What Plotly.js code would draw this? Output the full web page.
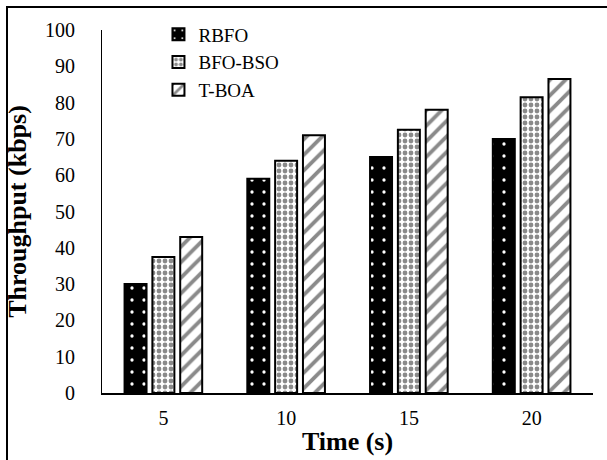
<!DOCTYPE html>
<html>
<head>
<meta charset="utf-8">
<script src="https://cdn.plot.ly/plotly-3.0.1.min.js"></script>
<style>
html,body{margin:0;padding:0;background:#fff;}
#wrap{position:relative;width:607px;height:460px;overflow:hidden;}
#frame{position:absolute;left:6px;top:6px;width:640px;height:500px;border-left:2px solid #000;border-top:2px solid #000;pointer-events:none;}
#chart{position:absolute;left:0;top:0;width:607px;height:460px;}
</style>
</head>
<body>
<div id="wrap">
<div id="chart"></div>
<div id="frame"></div>
</div>
<script>
var categories = ['5', '10', '15', '20'];
var seriesNames = ['RBFO', 'BFO-BSO', 'T-BOA'];
var rbfo = [30, 59, 65, 70];
var bfoBso = [37.5, 64, 72.5, 81.5];
var tBoa = [43, 71, 78, 86.5];
var yTicks = [0, 10, 20, 30, 40, 50, 60, 70, 80, 90, 100];

var font = '"Liberation Serif", "Times New Roman", serif';

var patterns = [
  {shape: '.', bgcolor: '#000000', fgcolor: '#ffffff', size: 12, solidity: 0.06},
  {shape: '.', bgcolor: '#ffffff', fgcolor: '#8a8a8a', size: 6, solidity: 0.5},
  {shape: '/', bgcolor: '#ffffff', fgcolor: '#8a8a8a', size: 11, solidity: 0.35}
];
var values = [rbfo, bfoBso, tBoa];

var data = seriesNames.map(function(name, i) {
  return {
    type: 'bar',
    name: name,
    x: categories,
    y: values[i],
    marker: {
      color: patterns[i].bgcolor,
      pattern: patterns[i],
      line: {color: '#000000', width: 2}
    }
  };
});

var layout = {
  width: 607,
  height: 460,
  margin: {l: 102, r: 14, t: 30, b: 67},
  paper_bgcolor: '#ffffff',
  plot_bgcolor: '#ffffff',
  font: {family: font, size: 20, color: '#000'},
  barmode: 'group',
  bargap: 0.32,
  bargroupgap: 0.21,
  showlegend: true,
  legend: {
    x: 0.115, y: 1.04, xanchor: 'left', yanchor: 'top',
    font: {family: font, size: 19, color: '#000'},
    bgcolor: 'rgba(0,0,0,0)',
    tracegroupgap: 0,
    itemwidth: 30
  },
  xaxis: {
    type: 'category',
    showline: true, linecolor: '#000', linewidth: 1.5,
    showgrid: false, zeroline: false,
    ticks: '', ticklabelstandoff: 6,
    tickfont: {family: font, size: 20, color: '#000'},
    title: {text: '<b>Time (s)</b>', font: {family: font, size: 26, color: '#000'}, standoff: 4}
  },
  yaxis: {
    range: [0, 100],
    tickvals: yTicks,
    showline: true, linecolor: '#000', linewidth: 1,
    showgrid: false, zeroline: false,
    ticks: '', ticklabelstandoff: 22,
    tickfont: {family: font, size: 20, color: '#000'},
    title: {text: '<b>Throughput (kbps)</b>', font: {family: font, size: 26, color: '#000'}, standoff: 10}
  }
};

Plotly.newPlot('chart', data, layout, {displayModeBar: false, staticPlot: true});
</script>
</body>
</html>
